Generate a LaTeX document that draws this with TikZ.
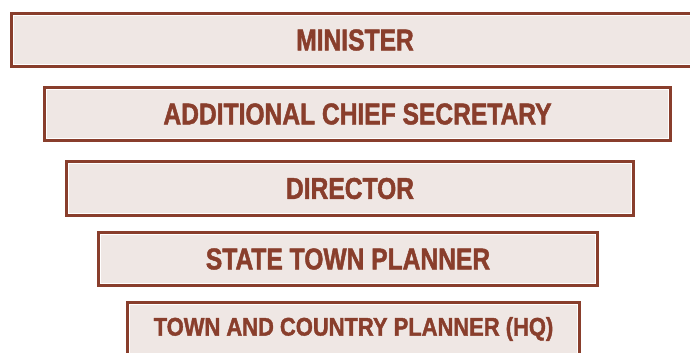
\documentclass[tikz,border=0pt]{standalone}
\usepackage{fontspec}
\setmainfont{Liberation Sans}
\newfontfamily\boxfont[FakeStretch=0.82,BoldFeatures={FakeBold=1.5}]{Liberation Sans}
\newfontfamily\boxfontb[FakeStretch=0.86,BoldFeatures={FakeBold=1.5}]{Liberation Sans}
\definecolor{rankbrown}{RGB}{137,62,44}
\definecolor{rankfill}{RGB}{239,231,228}
\tikzset{
  rankbox/.style={draw=rankbrown, line width=3.2pt, fill=rankfill, text=rankbrown,
    inner sep=0pt, outer sep=0pt, font=\boxfont\bfseries\fontsize{30}{30}\selectfont},
  smallrank/.style={font=\boxfontb\bfseries\fontsize{25.5}{25.5}\selectfont},
  innerline/.style={draw=white, line width=0.9pt}
}
\begin{document}
\begin{tikzpicture}[x=1pt,y=-1pt]
\useasboundingbox (0,0) rectangle (690,353);
\clip (0,0) rectangle (690,353);
\fill[white] (0,0) rectangle (690,353);
\node[rankbox, minimum width=686.8pt, minimum height=52.8pt] (minister) at (355,40) {MINISTER};
\node[rankbox, minimum width=625.8pt, minimum height=52.8pt] (acs) at (357.5,114) {ADDITIONAL CHIEF SECRETARY};
\node[rankbox, minimum width=566.8pt, minimum height=53.8pt] (director) at (350,188.5) {DIRECTOR};
\node[rankbox, minimum width=498.8pt, minimum height=52.8pt] (stp) at (348,259) {STATE TOWN PLANNER};
\node[rankbox, smallrank, minimum width=451.8pt, minimum height=52.8pt] (tcp) at (353.5,329) {TOWN AND COUNTRY PLANNER (HQ)};
\foreach \n in {minister,acs,director,stp,tcp}{
  \draw[innerline] ([shift={(2.1,-2.1)}]\n.south west) rectangle ([shift={(-2.1,2.1)}]\n.north east);
}
\end{tikzpicture}
\end{document}
